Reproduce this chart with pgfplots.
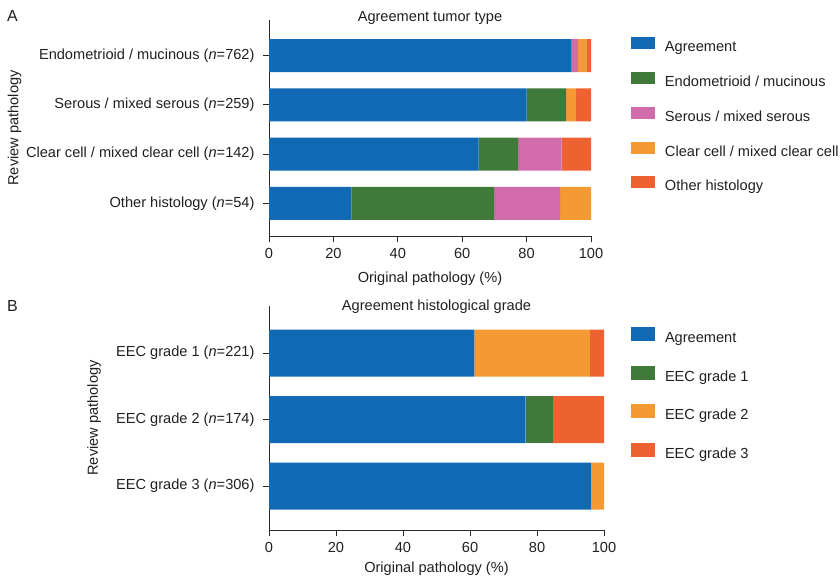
\documentclass[border=0pt]{standalone}
\usepackage{fontspec}
\setmainfont{Liberation Sans}
\usepackage{pgfplots}
\pgfplotsset{compat=1.18}

\definecolor{cAgree}{RGB}{17,105,180}
\definecolor{cGreen}{RGB}{64,122,58}
\definecolor{cPink}{RGB}{209,107,172}
\definecolor{cOrange}{RGB}{244,153,51}
\definecolor{cRed}{RGB}{238,98,50}
\definecolor{axcol}{RGB}{40,40,40}
\definecolor{txt}{RGB}{35,31,32}

\pgfplotsset{
  sqA/.style={legend image code/.code={\fill[##1] (0bp,-1bp) rectangle (24bp,11bp);}},
  sqB/.style={legend image code/.code={\fill[##1] (0bp,-2bp) rectangle (24bp,12bp);}},
  pbar/.style={
    xbar stacked, scale only axis, y dir=reverse,
    xmin=0, xmax=100, xtick={0,20,40,60,80,100},
    enlargelimits=false,
    axis lines*=left,
    axis line style={-, color=axcol, line width=0.9bp},
    tick align=outside, major tick length=6bp,
    tick style={color=axcol, line width=0.9bp},
    /pgf/number format/assume math mode=true,
    every tick label/.append style={text=txt},
    xticklabel style={yshift=-3bp},
    yticklabel style={xshift=-5bp},
    xlabel={Original pathology (\%)},
    ylabel={Review pathology},
    legend cell align=left,
    legend style={draw=none, fill=none, inner sep=0pt, outer sep=0pt,
      anchor=north west, text=txt, column sep=10bp,
      nodes={inner sep=0pt, text height=10.5bp, text depth=3.5bp}},
  },
}

\begin{document}
\begin{tikzpicture}[font=\fontsize{14.6bp}{17.5bp}\selectfont, text=txt]
\useasboundingbox (0,0) rectangle (840bp,-578bp);

\node[font=\fontsize{16bp}{18bp}\selectfont] at (12.5bp,-16bp) {A};
\node[font=\fontsize{16bp}{18bp}\selectfont] at (12.5bp,-306bp) {B};

% panel A
\begin{axis}[pbar,
  at={(269bp,-236bp)}, anchor=south west,
  width=322bp, height=216bp,
  ymin=-0.72, ymax=3.66,
  bar width=33bp,
  ytick={0,1,2,3},
  yticklabels={Endometrioid / mucinous (\textit{n}=762),
               Serous / mixed serous (\textit{n}=259),
               Clear cell / mixed clear cell (\textit{n}=142),
               Other histology (\textit{n}=54)},
  title={Agreement tumor type},
  title style={at={(axis description cs:0.5,1)}, anchor=base, yshift=-7.5bp},
  xlabel style={yshift=-6bp},
  ylabel style={at={(axis description cs:-0.79,0.5)}, anchor=center},
  legend style={at={(rel axis cs:1.1242,0.92)}, row sep=16.8bp},
]
\addplot[fill=cAgree, draw=none, sqA] coordinates {(93.8,0) (80.0,1) (65.1,2) (25.6,3)};
\addplot[fill=cGreen, draw=none, sqA] coordinates {(0,0) (12.3,1) (12.3,2) (44.3,3)};
\addplot[fill=cPink, draw=none, sqA] coordinates {(2.2,0) (0,1) (13.5,2) (20.5,3)};
\addplot[fill=cOrange, draw=none, sqA] coordinates {(2.7,0) (3.0,1) (0,2) (9.6,3)};
\addplot[fill=cRed, draw=none, sqA] coordinates {(1.3,0) (4.7,1) (9.1,2) (0,3)};
\legend{Agreement, Endometrioid / mucinous, Serous / mixed serous,
        Clear cell / mixed clear cell, Other histology}
\end{axis}

% panel B
\begin{axis}[pbar,
  at={(269bp,-530bp)}, anchor=south west,
  width=335bp, height=224bp,
  ymin=-0.71, ymax=2.66,
  bar width=47bp,
  ytick={0,1,2},
  yticklabels={EEC grade 1 (\textit{n}=221),
               EEC grade 2 (\textit{n}=174),
               EEC grade 3 (\textit{n}=306)},
  title={Agreement histological grade},
  title style={at={(axis description cs:0.5,1)}, anchor=base, yshift=-10bp},
  xlabel style={yshift=-2.5bp},
  ylabel style={at={(axis description cs:-0.522,0.5)}, anchor=center},
  legend style={at={(rel axis cs:1.0806,0.905)}, row sep=19.5bp},
]
\addplot[fill=cAgree, draw=none, sqB] coordinates {(61.3,0) (76.6,1) (96.1,2)};
\addplot[fill=cGreen, draw=none, sqB] coordinates {(0,0) (8.1,1) (0,2)};
\addplot[fill=cOrange, draw=none, sqB] coordinates {(34.5,0) (0,1) (3.9,2)};
\addplot[fill=cRed, draw=none, sqB] coordinates {(4.2,0) (15.3,1) (0,2)};
\legend{Agreement, EEC grade 1, EEC grade 2, EEC grade 3}
\end{axis}
\end{tikzpicture}
\end{document}
